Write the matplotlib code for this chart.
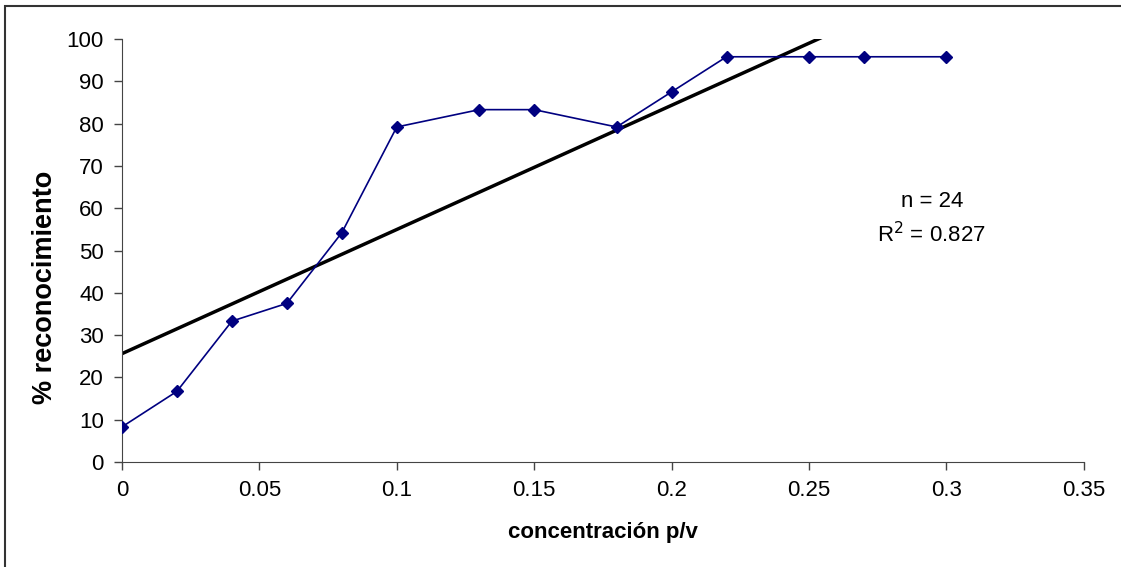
import numpy as np
import matplotlib.pyplot as plt
from matplotlib.patches import Rectangle

plt.rcParams['font.family'] = ['Liberation Sans', 'DejaVu Sans']

# data
conc = [0, 0.02, 0.04, 0.06, 0.08, 0.10, 0.13, 0.15, 0.18, 0.20, 0.22, 0.25, 0.27, 0.30]
recon = [8.3, 16.7, 33.3, 37.5, 54.2, 79.2, 83.3, 83.3, 79.2, 87.5, 95.8, 95.8, 95.8, 95.8]
x_ticks = [0, 0.05, 0.1, 0.15, 0.2, 0.25, 0.3, 0.35]
x_ticklabels = ['0', '0.05', '0.1', '0.15', '0.2', '0.25', '0.3', '0.35']
y_ticks = list(range(0, 101, 10))

# linear trend line
slope, intercept = np.polyfit(conc, recon, 1)
xt = np.array([0, 0.35])

fig = plt.figure(figsize=(11.21, 5.67), dpi=100)
ax = fig.add_axes([0.1088, 0.1852, 0.858, 0.746])

ax.plot(xt, slope * xt + intercept, color='black', lw=2.5, zorder=2)
ax.plot(conc, recon, color='#000080', lw=1.2, marker='D', ms=6,
        markerfacecolor='#000080', markeredgecolor='#000080', zorder=3)

ax.set_xlim(0, 0.35)
ax.set_ylim(0, 100)
ax.set_xticks(x_ticks)
ax.set_xticklabels(x_ticklabels)
ax.set_yticks(y_ticks)
ax.tick_params(direction='out', length=6, width=1, color='#444444',
               labelsize=16, pad=7)
for s in ['top', 'right']:
    ax.spines[s].set_visible(False)
for s in ['left', 'bottom']:
    ax.spines[s].set_color('#444444')

ax.set_xlabel('concentración p/v', fontsize=16, fontweight='bold', labelpad=15)
ax.set_ylabel('% reconocimiento', fontsize=19.5, fontweight='bold',
              va='center')
ax.yaxis.set_label_coords(-0.080, 0.414)

ax.text(0.2947, 61.5, 'n = 24', fontsize=16, ha='center', va='center')
ax.text(0.2947, 53.7, r'R$^2$ = 0.827', fontsize=16, ha='center', va='center')

# outer chart frame
fig.patches.append(Rectangle((5 / 1121, -0.01), 1.02, 1 - 6 / 567 + 0.01,
                             transform=fig.transFigure, fill=False,
                             edgecolor='#333333', lw=1.5))

fig.savefig('out.png', dpi=100)
